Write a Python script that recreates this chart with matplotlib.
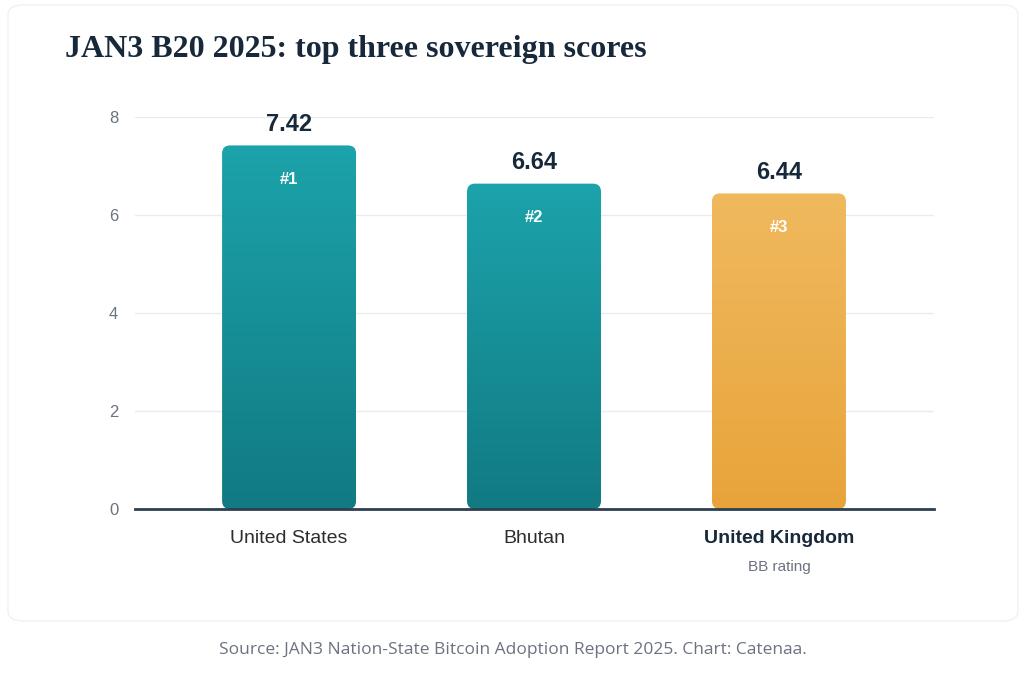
import numpy as np
import matplotlib
matplotlib.use("Agg")
import matplotlib.pyplot as plt
from matplotlib.patches import FancyBboxPatch
from matplotlib.colors import LinearSegmentedColormap

countries = ["United States", "Bhutan", "United Kingdom"]
scores = [7.42, 6.64, 6.44]
ranks = ["#1", "#2", "#3"]
sublabels = ["", "", "BB rating"]
yticks = [0, 2, 4, 6, 8]
title = "JAN3 B20 2025: top three sovereign scores"
source = "Source: JAN3 Nation-State Bitcoin Adoption Report 2025. Chart: Catenaa."

teal = ("#1ca3ab", "#117a82")
amber = ("#f0b95e", "#e8a43b")
grads = [teal, teal, amber]

W, H = 1024, 689
fig = plt.figure(figsize=(W / 100, H / 100), dpi=100)
fig.patch.set_facecolor("white")

# card
card = FancyBboxPatch((8 / W, (H - 621) / H), (1018 - 8) / W, (621 - 5) / H,
                      boxstyle="round,pad=0,rounding_size=0.015",
                      transform=fig.transFigure, facecolor="white",
                      edgecolor="#f0f1f3", linewidth=1.0, zorder=-10)
fig.patches.append(card)

fig.text(65 / W, 1 - 49 / H, title, fontsize=23, fontweight="bold",
         family=["Liberation Serif", "DejaVu Serif"], color="#16283a",
         ha="left", va="center")

ax_left, ax_right = 135, 934
ax_top, ax_bot = 117, 509
ax = fig.add_axes([ax_left / W, 1 - ax_bot / H, (ax_right - ax_left) / W,
                   (ax_bot - ax_top) / H])
ax.set_facecolor("none")
x = np.arange(len(countries))
ax.set_xlim(-0.629, 2.633)
ax.set_ylim(0, 8)

bars = ax.bar(x, scores, width=0.547, color="none", edgecolor="none")

# data units per pixel
px_x = (2.633 + 0.629) / (ax_right - ax_left)
px_y = 8 / (ax_bot - ax_top)
radius_px = 8

for i, (b, (c_top, c_bot)) in enumerate(zip(bars, grads)):
    x0, w, h = b.get_x(), b.get_width(), b.get_height()
    cmap = LinearSegmentedColormap.from_list("g", [c_bot, c_top])
    grad = np.linspace(0, 1, 256).reshape(-1, 1)
    im = ax.imshow(grad, cmap=cmap, origin="lower", aspect="auto",
                   extent=(x0, x0 + w, 0, h), zorder=3)
    clip = FancyBboxPatch((x0, 0), w, h,
                          boxstyle=f"round,pad=0,rounding_size={radius_px * px_x}",
                          mutation_aspect=px_y / px_x,
                          transform=ax.transData, facecolor="none",
                          edgecolor="none")
    ax.add_patch(clip)
    im.set_clip_path(clip)
    ax.text(x0 + w / 2, h + 0.2, f"{scores[i]:.2f}", ha="center", va="bottom",
            fontsize=17, fontweight="bold", color="#16283a",
            family="Liberation Sans", zorder=5)
    ax.text(x0 + w / 2, h - 0.7, ranks[i], ha="center", va="center",
            fontsize=12, fontweight="bold", color="white",
            family="Liberation Sans", zorder=5)

ax.set_xlim(-0.629, 2.633)
ax.set_ylim(0, 8)
ax.set_yticks(yticks)
ax.set_yticklabels([str(t) for t in yticks], family="Liberation Sans",
                   fontsize=12, color="#6b7280")
ax.tick_params(axis="y", length=0, pad=12)
ax.grid(axis="y", color="#e9ecef", linewidth=1, zorder=0)
ax.set_axisbelow(True)
for s in ["top", "right", "left"]:
    ax.spines[s].set_visible(False)
ax.spines["bottom"].set_color("#2c3e50")
ax.spines["bottom"].set_linewidth(2)
ax.spines["bottom"].set_zorder(6)

ax.set_xticks(x)
ax.set_xticklabels(countries, family="Liberation Sans", fontsize=14,
                   color="#2d2d2d")
ax.tick_params(axis="x", length=0, pad=15)
ax.get_xticklabels()[2].set_fontweight("bold")
ax.get_xticklabels()[2].set_color("#16283a")
for i, s in enumerate(sublabels):
    if s:
        ax.annotate(s, (x[i], 0), xytext=(0, -42), textcoords="offset points",
                    ha="center", va="center", fontsize=11,
                    color="#6b7280", family="Liberation Sans",
                    annotation_clip=False)

fig.text(513 / W, 1 - 650 / H, source, ha="center", va="center",
         fontsize=12.5, color="#6b7280", family=["Open Sans", "DejaVu Sans"])

fig.savefig("out.png", dpi=100, facecolor="white")
